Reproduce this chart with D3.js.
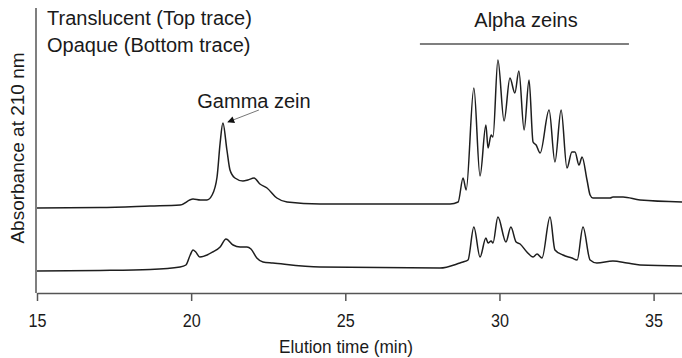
<!DOCTYPE html>
<html>
<head>
<meta charset="utf-8">
<script src="https://cdn.jsdelivr.net/npm/d3@7"></script>
<style>
  body { margin: 0; background: #fff; }
  svg text { font-family: "Liberation Sans", Arial, sans-serif; fill: #1a1a1a; }
</style>
</head>
<body>
<div id="chart"></div>
<script>
// elution time (min), absorbance (arbitrary units)
const topTime = [15.00, 17.04, 18.67, 19.64, 20.06, 20.30, 20.51, 20.68, 20.84, 20.94, 21.03, 21.16, 21.26, 21.42,
  21.68, 21.84, 22.04, 22.23, 22.46, 22.78, 23.11, 24.18, 28.40, 28.66, 28.82, 28.92, 29.17, 29.37, 29.56,
  29.63, 29.73, 29.79, 29.95, 30.15, 30.34, 30.50, 30.63, 30.80, 30.96, 31.09, 31.19, 31.32, 31.61, 31.80,
  32.00, 32.19, 32.35, 32.45, 32.58, 32.68, 32.84, 32.94, 33.03, 33.59, 33.68, 34.01, 34.56, 36.00];
const topAbs = [0.85, 0.855, 0.87, 0.88, 0.94, 0.93, 0.93, 0.98, 1.16, 1.50, 1.70, 1.43, 1.23, 1.15,
  1.12, 1.13, 1.15, 1.09, 1.05, 0.95, 0.91, 0.89, 0.89, 0.91, 1.15, 1.03, 2.05, 1.17, 1.68,
  1.45, 1.58, 1.56, 2.33, 1.72, 2.15, 2.00, 2.22, 1.63, 2.13, 1.51, 1.48, 1.40, 1.83, 1.31,
  1.83, 1.25, 1.41, 1.41, 1.28, 1.36, 1.13, 0.98, 0.95, 0.95, 0.96, 0.96, 0.93, 0.91];

const bottomTime = [15.00, 17.04, 18.67, 19.64, 19.83, 19.97, 20.06, 20.15, 20.28, 20.70, 20.94, 21.13, 21.36,
  21.59, 21.81, 21.94, 22.13, 22.33, 22.65, 24.18, 28.07, 28.72, 28.82, 28.98, 29.17, 29.37, 29.56, 29.63,
  29.73, 29.79, 29.95, 30.21, 30.37, 30.54, 30.67, 30.89, 31.09, 31.22, 31.38, 31.64, 31.80, 32.06, 32.35,
  32.52, 32.71, 32.94, 33.16, 33.68, 34.14, 34.56, 36.00];
const bottomAbs = [0.22, 0.225, 0.235, 0.26, 0.28, 0.38, 0.43, 0.41, 0.36, 0.41, 0.46, 0.54, 0.48,
  0.46, 0.46, 0.44, 0.35, 0.31, 0.30, 0.26, 0.25, 0.30, 0.31, 0.33, 0.66, 0.36, 0.55, 0.50,
  0.52, 0.50, 0.76, 0.51, 0.66, 0.51, 0.49, 0.41, 0.36, 0.39, 0.35, 0.76, 0.43, 0.38, 0.35,
  0.33, 0.66, 0.33, 0.30, 0.32, 0.30, 0.28, 0.27];

const xTicks = [15, 20, 25, 30, 35];
const traceLabels = ['Translucent (Top trace)', 'Opaque (Bottom trace)'];
const alphaRange = [27.42, 34.2];
const gammaPeak = [21.03, 1.70];

const width = 682, height = 358;
const margin = {top: 8, right: 0, bottom: 65, left: 37};

const svg = d3.select('#chart').append('svg')
  .attr('width', width)
  .attr('height', height);

const x = d3.scaleLinear()
  .domain([15, 36])
  .range([margin.left, margin.left + 21 * 30.83]);

const y = d3.scaleLinear()
  .domain([0, 2.85])
  .range([height - margin.bottom, margin.top]);

svg.append('clipPath').attr('id', 'clip')
  .append('rect')
  .attr('x', margin.left).attr('y', 0)
  .attr('width', width - margin.left).attr('height', height);

// axes
const xAxis = svg.append('g')
  .attr('transform', 'translate(0,' + y(0) + ')')
  .call(d3.axisBottom(x).tickValues(xTicks).tickSize(8).tickPadding(13).tickSizeOuter(0));
xAxis.select('.domain').attr('stroke', '#555').attr('stroke-width', 1.5);
xAxis.selectAll('.tick line').attr('stroke', '#555').attr('stroke-width', 1.5);
xAxis.selectAll('.tick text')
  .style('font-size', '19px')
  .style('font-family', '"Liberation Sans", Arial, sans-serif')
  .attr('fill', '#1a1a1a')
  .attr('textLength', 18)
  .attr('lengthAdjust', 'spacingAndGlyphs');

svg.append('line')
  .attr('x1', margin.left - 1).attr('x2', margin.left - 1)
  .attr('y1', y(2.85)).attr('y2', y(0))
  .attr('stroke', '#555').attr('stroke-width', 1.5);

svg.append('text')
  .attr('x', 346)
  .attr('y', 353)
  .attr('text-anchor', 'middle')
  .attr('textLength', 134)
  .attr('lengthAdjust', 'spacingAndGlyphs')
  .style('font-size', '19px')
  .text('Elution time (min)');

svg.append('text')
  .attr('transform', 'translate(24,' + 148 + ') rotate(-90)')
  .attr('text-anchor', 'middle')
  .style('font-size', '19px')
  .text('Absorbance at 210 nm');

// traces
const line = d3.line()
  .x(d => x(d[0]))
  .y(d => y(d[1]))
  .curve(d3.curveMonotoneX);

const traces = [d3.zip(topTime, topAbs), d3.zip(bottomTime, bottomAbs)];
svg.append('g').attr('clip-path', 'url(#clip)')
  .selectAll('path')
  .data(traces)
  .enter()
  .append('path')
  .attr('d', line)
  .attr('fill', 'none')
  .attr('stroke', '#1e1e1e')
  .attr('stroke-width', 1.5)
  .attr('stroke-linejoin', 'round');

// legend text
svg.selectAll('.trace-label')
  .data(traceLabels)
  .enter()
  .append('text')
  .attr('class', 'trace-label')
  .attr('x', 47)
  .attr('y', (d, i) => 25 + i * 27)
  .style('font-size', '20px')
  .text(d => d);

// alpha zeins bracket
svg.append('line')
  .attr('x1', x(alphaRange[0])).attr('x2', x(alphaRange[1]))
  .attr('y1', 44).attr('y2', 44)
  .attr('stroke', '#555').attr('stroke-width', 1.5);
svg.append('text')
  .attr('x', 526)
  .attr('y', 27)
  .attr('text-anchor', 'middle')
  .style('font-size', '20px')
  .text('Alpha zeins');

// gamma zein arrow
svg.append('defs').append('marker')
  .attr('id', 'arrow')
  .attr('viewBox', '0 0 10 10')
  .attr('refX', 9).attr('refY', 5)
  .attr('markerWidth', 10).attr('markerHeight', 7)
  .attr('markerUnits', 'userSpaceOnUse')
  .attr('orient', 'auto')
  .append('path')
  .attr('d', 'M0,0L10,5L0,10z')
  .attr('fill', '#111');

svg.append('line')
  .attr('x1', x(gammaPeak[0]) + 36).attr('y1', y(gammaPeak[1]) - 13)
  .attr('x2', x(gammaPeak[0]) + 5).attr('y2', y(gammaPeak[1]) - 1)
  .attr('stroke', '#777').attr('stroke-width', 1)
  .attr('marker-end', 'url(#arrow)');

svg.append('text')
  .attr('x', 254)
  .attr('y', 108)
  .attr('text-anchor', 'middle')
  .style('font-size', '20px')
  .text('Gamma zein');
</script>
</body>
</html>
